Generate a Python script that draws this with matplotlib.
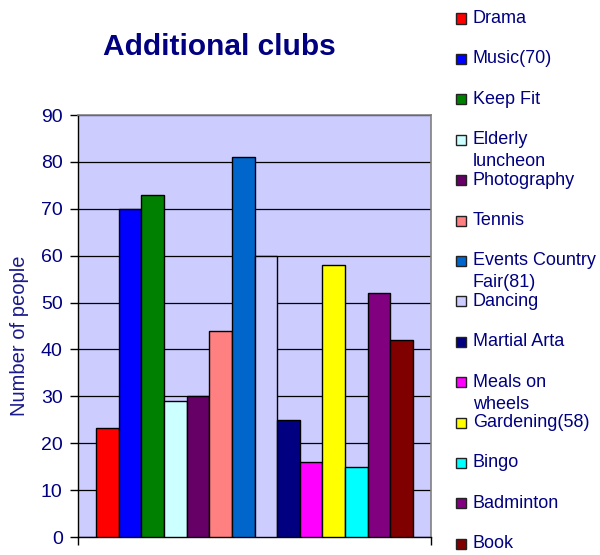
import matplotlib
matplotlib.use("Agg")
import matplotlib.pyplot as plt
from matplotlib.patches import Rectangle

plt.rcParams['font.family'] = ['Liberation Sans', 'DejaVu Sans']

categories = ["Drama", "Music(70)", "Keep Fit", "Elderly\nluncheon", "Photography",
              "Tennis", "Events Country\nFair(81)", "Dancing", "Martial Arta",
              "Meals on\nwheels", "Gardening(58)", "Bingo", "Badminton", "Book"]
values = [23.2, 70, 73, 29, 30, 44, 81, 60, 25, 16, 58, 15, 52, 42]
colors = ["#FF0000", "#0000FF", "#008000", "#CCFFFF", "#660066", "#FF8080",
          "#0066CC", "#CCCCFF", "#000080", "#FF00FF", "#FFFF00", "#00FFFF",
          "#800080", "#800000"]
yticks = [0, 10, 20, 30, 40, 50, 60, 70, 80, 90]

navy = "#000080"
W, H = 600, 555
fig = plt.figure(figsize=(W / 100, H / 100), dpi=100)
ax = fig.add_axes([78 / W, 1 - 537 / H, 353 / W, 422 / H])
ax.set_facecolor("#CCCCFF")

x = list(range(len(values)))
ax.bar(x, values, width=1.0, align='edge', color=colors, edgecolor='black',
       linewidth=1.0, zorder=3)

ax.set_xlim(-0.8, len(values) + 0.8)
ax.set_ylim(0, 90)
ax.set_yticks(yticks)
ax.set_yticklabels([str(t) for t in yticks], color=navy, fontsize=14)
ax.set_xticks([-0.8, len(values) + 0.8])
ax.set_xticklabels([])
ax.tick_params(axis='both', direction='out', length=6, width=1, color='black', pad=5)
ax.yaxis.grid(True, color='black', linewidth=0.9, zorder=0)
ax.set_axisbelow(True)
for s in ['top', 'right']:
    ax.spines[s].set_color('#808080')
    ax.spines[s].set_linewidth(1.2)
for s in ['left', 'bottom']:
    ax.spines[s].set_color('black')
    ax.spines[s].set_linewidth(1.0)

fig.text(219 / W, 1 - 47 / H, "Additional clubs", ha='center', va='center',
         fontsize=21.5, fontweight='bold', color=navy)
fig.text(20 / W, 1 - 336 / H, "Number of people", ha='center', va='center',
         rotation=90, fontsize=14.5, color="#1a1a8c")

# legend
for i, (lab, col) in enumerate(zip(categories, colors)):
    yc = 18.5 + 40.4 * i
    fig.add_artist(Rectangle((456 / W, 1 - (yc + 5) / H), 10 / W, 10 / H,
                             transform=fig.transFigure, facecolor=col,
                             edgecolor='#222222', linewidth=1.0))
    for j, line in enumerate(lab.split("\n")):
        fig.text(473 / W, 1 - (yc + 22 * j) / H, line, ha='left', va='center',
                 fontsize=13, color=navy)

fig.savefig("out.png", dpi=100)
